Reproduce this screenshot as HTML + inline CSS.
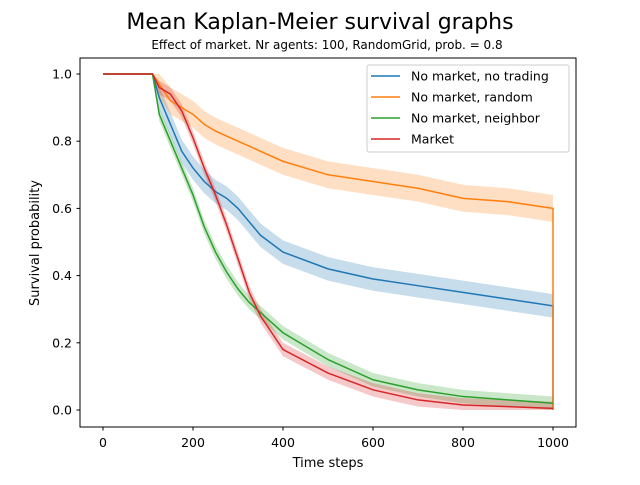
<!DOCTYPE html>
<html><head><meta charset="utf-8"><style>
body{margin:0;background:#fff;font-family:"Liberation Sans","DejaVu Sans",sans-serif}
svg text{font-family:"DejaVu Sans","Liberation Sans",sans-serif}
</style></head><body>
<svg id="c" width="640" height="480">
<text x="320" y="29" font-size="22" text-anchor="middle">Mean Kaplan-Meier survival graphs</text>
<text x="327" y="49" font-size="12" text-anchor="middle">Effect of market. Nr agents: 100, RandomGrid, prob. = 0.8</text>
<g id="plot"></g>
<rect x="80" y="58" width="496" height="369" fill="none" stroke="#000" stroke-width="1"/>
<text x="328" y="467" font-size="13" text-anchor="middle">Time steps</text>
<text transform="translate(39,243) rotate(-90)" font-size="13" text-anchor="middle">Survival probability</text>
<g>
<rect x="367" y="65" width="202" height="87" fill="#fff" stroke="#ccc" rx="2"/>
</g>
</svg>
<script>
const times=[0,110,125,150,175,200,225,250,275,300,325,350,400,500,600,700,800,900,1000];
const seriesNames=["No market, no trading","No market, random","No market, neighbor","Market"];
const noTrading=[1,1,0.93,0.85,0.77,0.72,0.68,0.65,0.63,0.60,0.56,0.52,0.47,0.42,0.39,0.37,0.35,0.33,0.31];
const random=[1,1,0.97,0.92,0.90,0.88,0.85,0.83,0.815,0.80,0.785,0.77,0.74,0.70,0.68,0.66,0.63,0.62,0.60];
const neighbor=[1,1,0.88,0.80,0.72,0.64,0.545,0.47,0.41,0.36,0.32,0.29,0.23,0.15,0.09,0.06,0.04,0.03,0.02];
const market=[1,1,0.96,0.94,0.89,0.81,0.72,0.64,0.55,0.45,0.35,0.28,0.18,0.11,0.06,0.03,0.015,0.01,0.005];
const bandWidth=[0.035,0.04,0.02,0.02];
const xTicks=[0,200,400,600,800,1000];
const yTicks=[0,0.2,0.4,0.6,0.8,1.0];
const colors=["#1f77b4","#ff7f0e","#2ca02c","#d62728"];
const NS="http://www.w3.org/2000/svg";
const X=t=>103+t*0.45, Y=v=>410-v*336;
const g=document.getElementById('plot'), svg=document.getElementById('c');
function mk(tag,attrs,parent){const e=document.createElementNS(NS,tag);for(const k in attrs)e.setAttribute(k,attrs[k]);(parent||g).appendChild(e);return e;}
const all=[noTrading,random,neighbor,market];
const keys=["no-trading","random","neighbor","market"];
all.forEach((s,i)=>{
  const w=bandWidth[i];
  let up=times.map((t,j)=>X(t)+','+Y(Math.min(1,s[j]+(j>1?w:0)))).join(' ');
  let lo=times.slice().reverse().map((t,jj)=>{const j=times.length-1-jj;return X(t)+','+Y(Math.max(0,s[j]-(j>1?w:0)));}).join(' ');
  const b=mk('polygon',{points:up+' '+lo,fill:colors[i],'fill-opacity':0.25,stroke:'none'});
  
  
});
all.forEach((s,i)=>{
  let pts=times.map((t,j)=>X(t)+','+Y(s[j]));
  if(i<2) pts.push(X(1000)+','+Y(0));
  const l=mk('polyline',{points:pts.join(' '),fill:'none',stroke:colors[i],'stroke-width':1.5});
  
  
});
xTicks.forEach(t=>{
  mk('line',{x1:X(t),x2:X(t),y1:427,y2:430.5,stroke:'#000'},svg);
  const tx=mk('text',{x:X(t),y:447,'font-size':12.5,'text-anchor':'middle'},svg);tx.textContent=t;
  
  
});
yTicks.forEach(v=>{
  mk('line',{x1:76.5,x2:80,y1:Y(v),y2:Y(v),stroke:'#000'},svg);
  const tx=mk('text',{x:72,y:Y(v)+4.5,'font-size':12.5,'text-anchor':'end'},svg);tx.textContent=v.toFixed(1);
  
  
});
seriesNames.forEach((n,i)=>{
  const y=76+i*21;
  mk('line',{x1:371,x2:400,y1:y,y2:y,stroke:colors[i],'stroke-width':1.5},svg);
  const tx=mk('text',{x:411,y:y+4.5,'font-size':12.5},svg);tx.textContent=n;
  
  
});
</script>
</body></html>
